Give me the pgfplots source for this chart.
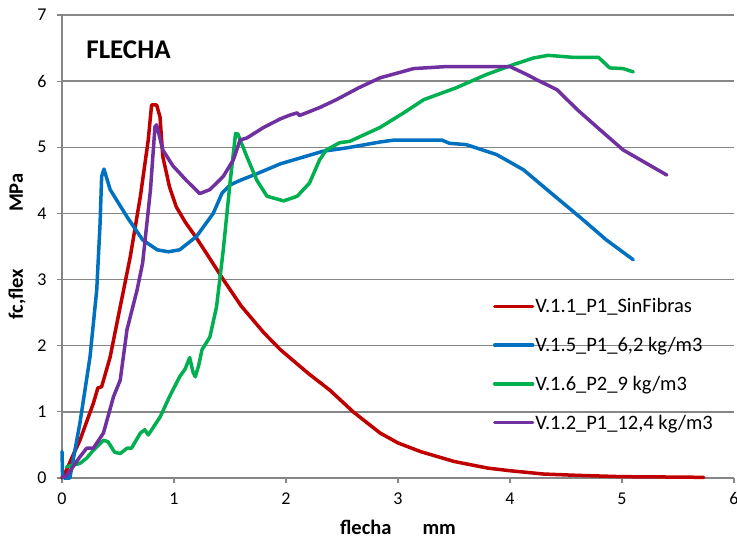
\documentclass[border=0pt]{standalone}
\usepackage{fontspec}
\setmainfont{Carlito}
\usepackage{pgfplots}
\pgfplotsset{compat=1.18}
\definecolor{cred}{RGB}{192,0,0}
\definecolor{cblue}{RGB}{0,112,192}
\definecolor{cgreen}{RGB}{0,176,80}
\definecolor{cpurple}{RGB}{112,48,160}
\definecolor{gridgray}{RGB}{134,134,134}
\begin{document}
\begin{tikzpicture}
\begin{axis}[
  scale only axis, width=672pt, height=463pt,
  xmin=0, xmax=6, ymin=0, ymax=7,
  xtick={0,1,...,6}, ytick={0,1,...,7},
  axis lines=left, axis line style={-, draw=gridgray, line width=1.3pt},
  ymajorgrids, grid style={draw=gridgray, line width=1.3pt},
  tick align=outside, major tick length=5pt,
  tick style={draw=gridgray, line width=1.1pt},
  ticklabel style={font=\fontsize{18}{20}\selectfont},
  x tick label style={yshift=-6pt},
  y tick label style={xshift=-7pt},
  /pgf/number format/assume math mode=true,
  xlabel={\textbf{flecha}\hspace{31pt}\textbf{mm}},
  ylabel={\textbf{fc,flex}\hspace{57pt}\textbf{MPa}},
  every axis x label/.style={at={(rel axis cs:0.5,0)}, yshift=-49pt, anchor=center, font=\fontsize{20.5}{22}\selectfont},
  every axis y label/.style={at={(rel axis cs:0,0.5)}, xshift=-45pt, rotate=90, anchor=center, font=\fontsize{20.5}{22}\selectfont},
  clip=false,
  legend cell align=left,
  legend style={draw=none, fill=none, at={(0.641,0.39)}, anchor=north west,
    font=\fontsize{20.5}{22}\selectfont, row sep=21pt, inner sep=0pt,
    nodes={inner sep=1pt}},
  legend image code/.code={\draw[#1] (0pt,0pt) -- (38pt,0pt);},
  every axis plot/.append style={line width=3.5pt, line join=round, line cap=round},
]
\addplot[cred] coordinates {
(0,0.0) (0.04,0.12) (0.1,0.35) (0.16,0.57) (0.22,0.85) (0.28,1.13) (0.32,1.36)
(0.354,1.38) (0.43,1.83) (0.52,2.59) (0.61,3.35) (0.70,4.26) (0.77,5.11) (0.8,5.64)
(0.845,5.64) (0.875,5.46) (0.9,4.86) (0.96,4.4) (1.02,4.1) (1.1,3.87) (1.2,3.63)
(1.3,3.37) (1.44,3.0) (1.6,2.6) (1.8,2.2) (1.95,1.94) (2.2,1.58) (2.39,1.33)
(2.6,1.0) (2.84,0.68) (3.0,0.53) (3.2,0.40) (3.5,0.25) (3.8,0.15) (4.0,0.11)
(4.3,0.06) (4.6,0.04) (5.0,0.02) (5.4,0.015) (5.73,0.01)};
\addlegendentry{V.1.1\_P1\_SinFibras}
\addplot[cblue] coordinates {
(0,0.4) (0.005,0.05) (0.02,0.0) (0.07,0.0) (0.16,0.83) (0.25,1.83) (0.31,2.84)
(0.34,3.85) (0.354,4.56) (0.375,4.67) (0.43,4.36) (0.58,3.95) (0.72,3.6)
(0.85,3.45) (0.95,3.42) (1.05,3.45) (1.2,3.65) (1.35,4.0) (1.43,4.31) (1.5,4.43)
(1.59,4.5) (1.74,4.6) (1.95,4.75) (2.15,4.85) (2.33,4.94) (2.54,4.99) (2.84,5.08)
(2.97,5.11) (3.39,5.11) (3.46,5.06) (3.61,5.04) (3.88,4.89) (4.12,4.66) (4.33,4.36)
(4.62,3.95) (4.86,3.6) (5.1,3.3)};
\addlegendentry{V.1.5\_P1\_6,2 kg/m3}
\addplot[cgreen] coordinates {
(0.04,0.17) (0.16,0.22) (0.22,0.3) (0.28,0.42) (0.37,0.57) (0.41,0.55) (0.44,0.47)
(0.47,0.39) (0.52,0.37) (0.58,0.45) (0.62,0.45) (0.70,0.68) (0.74,0.73) (0.77,0.65)
(0.875,0.92) (0.96,1.23) (1.05,1.53) (1.1,1.65) (1.14,1.82) (1.17,1.6) (1.19,1.53)
(1.22,1.7) (1.25,1.94) (1.32,2.13) (1.38,2.59) (1.44,3.45) (1.5,4.46) (1.55,5.21)
(1.57,5.2) (1.65,4.86) (1.74,4.5) (1.83,4.26) (1.98,4.19) (2.1,4.26) (2.21,4.46)
(2.3,4.81) (2.36,4.96) (2.48,5.07) (2.57,5.09) (2.84,5.30) (3.05,5.52) (3.23,5.72)
(3.52,5.9) (3.79,6.1) (4.03,6.25) (4.21,6.35) (4.34,6.39) (4.56,6.36) (4.79,6.36)
(4.89,6.2) (5.01,6.19) (5.1,6.14)};
\addlegendentry{V.1.6\_P2\_9 kg/m3}
\addplot[cpurple] coordinates {
(0,0.02) (0.04,0.03) (0.16,0.32) (0.22,0.45) (0.28,0.45) (0.37,0.68) (0.46,1.23)
(0.52,1.48) (0.58,2.24) (0.67,2.84) (0.72,3.25) (0.79,4.36) (0.83,5.31) (0.845,5.34)
(0.9,4.96) (0.99,4.72) (1.11,4.5) (1.23,4.3) (1.32,4.36) (1.44,4.56) (1.53,4.81)
(1.59,5.11) (1.65,5.14) (1.8,5.3) (1.95,5.43) (2.04,5.49) (2.1,5.52) (2.12,5.48)
(2.3,5.6) (2.45,5.72) (2.65,5.9) (2.84,6.05) (3.14,6.19) (3.43,6.22) (4.0,6.22)
(4.15,6.1) (4.24,6.02) (4.42,5.87) (4.6,5.57) (4.78,5.3) (5.01,4.96) (5.4,4.58)};
\addlegendentry{V.1.2\_P1\_12,4 kg/m3}
\node[anchor=west, font=\bfseries\fontsize{27}{30}\selectfont] at (rel axis cs:0.031,0.924) {FLECHA};
\end{axis}
\pgfresetboundingbox
\path[use as bounding box] ([xshift=-62pt,yshift=-70pt]current axis.south west) rectangle ([xshift=3pt,yshift=15pt]current axis.north east);
\end{tikzpicture}
\end{document}
